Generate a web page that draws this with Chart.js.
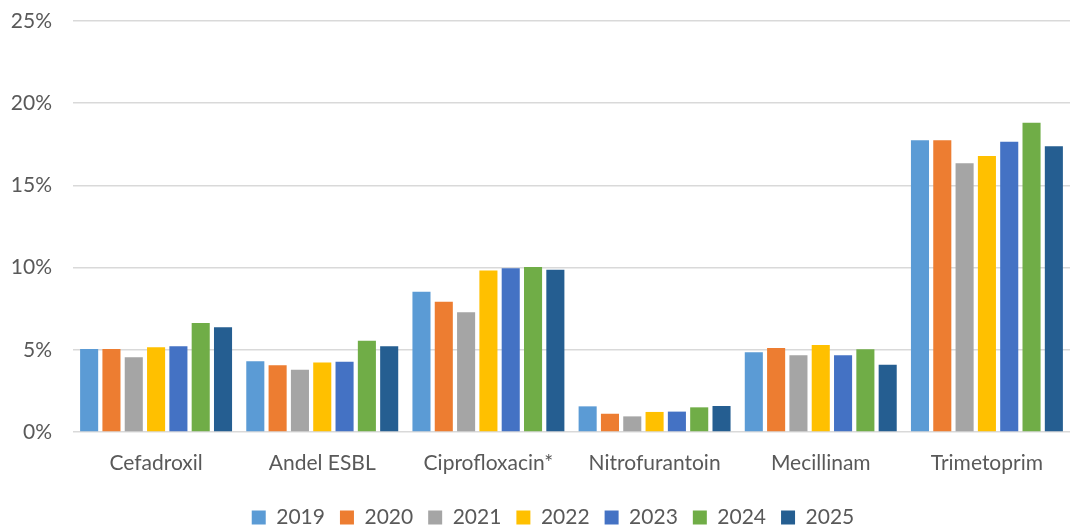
<!DOCTYPE html>
<html lang="no">
<head>
<meta charset="UTF-8">
<title>Resistens</title>
<script src="https://cdn.jsdelivr.net/npm/chart.js@4.4.0/dist/chart.umd.min.js"></script>
<style>
  html, body { margin: 0; padding: 0; background: #fff; }
  canvas { display: block; }
</style>
</head>
<body>
<canvas id="chart" width="1071" height="528"></canvas>
<script>
// antibiotika (kategorier)
const categories = ["Cefadroxil", "Andel ESBL", "Ciprofloxacin*", "Nitrofurantoin", "Mecillinam", "Trimetoprim"];
const years = ["2019", "2020", "2021", "2022", "2023", "2024", "2025"];
const colors = ["#5B9BD5", "#ED7D31", "#A5A5A5", "#FFC000", "#4472C4", "#70AD47", "#255E91"];

// verdier i prosent, per år
const v2019 = [5.05, 4.30, 8.53, 1.56, 4.85, 17.74];
const v2020 = [5.05, 4.06, 7.93, 1.11, 5.11, 17.74];
const v2021 = [4.54, 3.79, 7.28, 0.95, 4.67, 16.34];
const v2022 = [5.15, 4.22, 9.83, 1.22, 5.29, 16.79];
const v2023 = [5.21, 4.28, 9.96, 1.24, 4.67, 17.66];
const v2024 = [6.63, 5.55, 10.04, 1.50, 5.03, 18.81];
const v2025 = [6.37, 5.21, 9.87, 1.58, 4.09, 17.38];
const series = [v2019, v2020, v2021, v2022, v2023, v2024, v2025];

const yTicks = [0, 5, 10, 15, 20, 25];

const font = { family: "Lato, 'Noto Sans', sans-serif", size: 21, lineHeight: 1 };
const textColor = "#595959";

// flytt forklaringen litt ned og til høyre, som i Excel-originalen
const legendShift = {
  id: "legendShift",
  afterLayout(chart) {
    const lg = chart.legend;
    lg.top += 10; lg.bottom += 10;
    lg.left += 18; lg.right += 18;
  },
};

new Chart(document.getElementById("chart"), {
  type: "bar",
  data: {
    labels: categories,
    datasets: series.map((vals, i) => ({
      label: years[i],
      data: vals,
      backgroundColor: colors[i],
      borderWidth: 0,
      categoryPercentage: 0.94,
      barPercentage: 0.81,
    })),
  },
  options: {
    responsive: false,
    animation: false,
    devicePixelRatio: 1,
    layout: { padding: { top: 21, right: 1, left: 0, bottom: 0 } },
    plugins: {
      tooltip: { enabled: false },
      legend: {
        position: "bottom",
        labels: {
          boxWidth: 14,
          boxHeight: 14,
          padding: 15,
          color: textColor,
          font: font,
        },
      },
    },
    scales: {
      x: {
        grid: { display: false },
        border: { display: false },
        ticks: { color: textColor, font: font, padding: 13, maxRotation: 0 },
        afterFit: (s) => { s.height = 50; },
      },
      y: {
        min: 0,
        max: 25,
        afterBuildTicks: (s) => { s.ticks = yTicks.map(v => ({ value: v })); },
        grid: { color: "#d9d9d9", lineWidth: 1.5, drawTicks: false },
        border: { display: false },
        ticks: { color: textColor, font: font, padding: 21, callback: (v) => v + "%" },
        afterFit: (s) => { s.width = 73; s.paddingTop = 0; s.paddingBottom = 0; },
      },
    },
  },
  plugins: [legendShift],
});
</script>
</body>
</html>
